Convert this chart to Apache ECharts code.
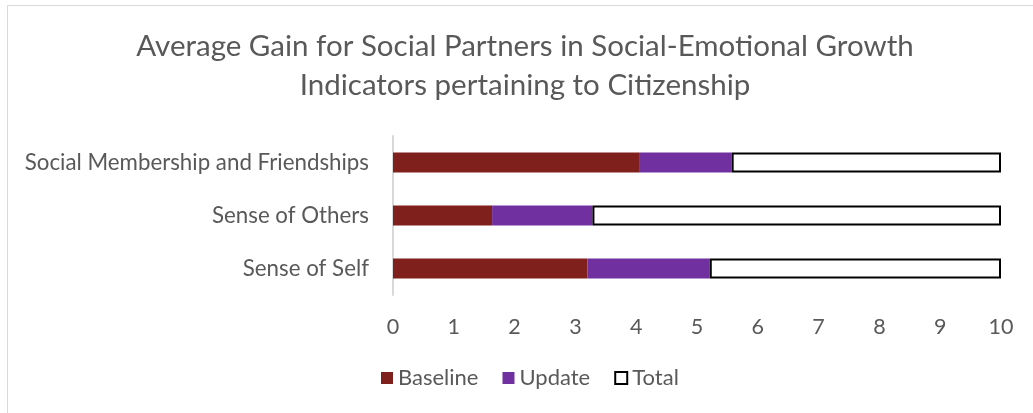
<!DOCTYPE html>
<html><head><meta charset="utf-8">
<script src="https://cdn.jsdelivr.net/npm/echarts@6/dist/echarts.min.js"></script>
<style>html,body{margin:0;padding:0;background:#fff}#c{width:1033px;height:413px}
#frame{position:absolute;left:7px;top:5px;width:1040px;height:420px;border:1px solid #d9d9d9;box-sizing:border-box;pointer-events:none}</style>
</head><body><div id="c"></div><div id="frame"></div>
<script>
const titleText = 'Average Gain for Social Partners in Social-Emotional Growth\nIndicators pertaining to Citizenship';
const categories = ['Sense of Self', 'Sense of Others', 'Social Membership and Friendships'];
const baseline = [3.20, 1.63, 4.06];
const update = [2.01, 1.65, 1.51];
const total = [4.79, 6.72, 4.43];
const xTicks = [0,1,2,3,4,5,6,7,8,9,10];

const font = 'Lato';
const chart = echarts.init(document.getElementById('c'));
chart.setOption({
  animation: false,
  title: {
    text: titleText, left: 520, top: 22, textAlign: 'center',
    textStyle: {fontFamily: font, fontSize: 29.5, fontWeight: 'normal', color: '#595959', lineHeight: 39}
  },
  legend: {
    bottom: 19, left: 376, itemWidth: 12, itemHeight: 12, itemGap: 24,
    textStyle: {fontFamily: font, fontSize: 22, color: '#595959'},
    data: [
      {name: 'Baseline', icon: 'rect'},
      {name: 'Update', icon: 'rect'},
      {name: 'Total', icon: 'rect', itemStyle: {color: '#fff', borderColor: '#000', borderWidth: 2}}
    ]
  },
  grid: {left: 393, right: 32, top: 136, bottom: 118},
  xAxis: {
    type: 'value', min: xTicks[0], max: xTicks[xTicks.length-1], interval: 1,
    axisLine: {show: false}, axisTick: {show: false}, splitLine: {show: false},
    axisLabel: {fontFamily: font, fontSize: 21.5, color: '#595959', margin: 21}
  },
  yAxis: {
    type: 'category', data: categories,
    axisLine: {show: true, lineStyle: {color: '#d9d9d9', width: 2}}, axisTick: {show: false},
    axisLabel: {fontFamily: font, fontSize: 22.3, color: '#595959', margin: 24}
  },
  series: [
    {name: 'Baseline', type: 'bar', stack: 's', data: baseline, barCategoryGap: '62%',
     itemStyle: {color: '#7F201C'}},
    {name: 'Update', type: 'bar', stack: 's', data: update,
     itemStyle: {color: '#7030A0'}},
    {name: 'Total', type: 'bar', stack: 's', data: total,
     itemStyle: {color: '#ffffff', borderColor: '#000000', borderWidth: 2}}
  ]
});
</script></body></html>
